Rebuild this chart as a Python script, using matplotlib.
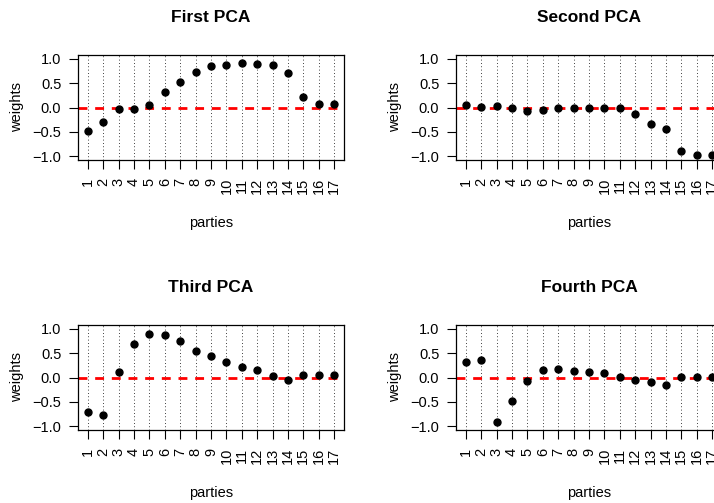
import numpy as np
import matplotlib
matplotlib.use("Agg")
import matplotlib.pyplot as plt

plt.rcParams["font.family"] = ["Liberation Sans", "DejaVu Sans"]

parties = list(range(1, 18))
titles = ["First PCA", "Second PCA", "Third PCA", "Fourth PCA"]

pc1 = [-0.48, -0.30, -0.03, -0.03, 0.05, 0.31, 0.52, 0.74, 0.85, 0.88,
       0.91, 0.90, 0.87, 0.72, 0.22, 0.07, 0.07]
pc2 = [0.05, 0.02, 0.04, -0.01, -0.08, -0.05, -0.01, 0.00, 0.00, 0.00,
       -0.02, -0.13, -0.33, -0.44, -0.90, -0.98, -0.98]
pc3 = [-0.71, -0.78, 0.12, 0.69, 0.90, 0.88, 0.76, 0.54, 0.44, 0.31,
       0.22, 0.16, 0.04, -0.05, 0.05, 0.06, 0.06]
pc4 = [0.31, 0.36, -0.92, -0.49, -0.07, 0.15, 0.18, 0.14, 0.11, 0.10,
       0.01, -0.06, -0.10, -0.15, 0.01, 0.02, 0.02]
weights = [pc1, pc2, pc3, pc4]

W, H = 714, 503
fig = plt.figure(figsize=(W / 100, H / 100), dpi=100)

# axes boxes in pixels: (left, top); right column runs off the page like the original
boxes = [(78, 55), (456, 55), (78, 325), (456, 325)]
aw, ah = 266, 105

for (left, top), title, w in zip(boxes, titles, weights):
    ax = fig.add_axes([left / W, (H - top - ah) / H, aw / W, ah / H])
    for p in parties:
        ax.axvline(p, color="black", lw=0.6, ls=(0, (1, 3)), zorder=1)
    ax.axhline(0, color="red", lw=2, ls=(0, (3.2, 2.8)), zorder=2)
    ax.plot(parties, w, "o", color="black", ms=5, zorder=3)

    ax.set_xlim(0.36, 17.64)
    ax.set_ylim(-1.08, 1.08)
    ax.set_xticks(parties)
    ax.set_xticklabels([str(p) for p in parties], rotation=90, va="top")
    ax.set_yticks([-1.0, -0.5, 0.0, 0.5, 1.0])
    ax.set_yticklabels(["\u22121.0", "\u22120.5", "0.0", "0.5", "1.0"])
    ax.tick_params(axis="both", direction="out", length=6.5, width=0.8,
                   labelsize=10.5, color="black")
    ax.tick_params(axis="y", pad=5.5)
    ax.tick_params(axis="x", pad=6.5)
    for s in ax.spines.values():
        s.set_linewidth(0.9)

    ax.text(0.5, 1 + 37 / ah, title, transform=ax.transAxes, ha="center",
            va="center", fontsize=12.5, fontweight="bold")
    ax.text(-60.5 / aw, 0.5, "weights", transform=ax.transAxes, rotation=90,
            ha="center", va="center", fontsize=10.5)
    ax.text(0.5, -63 / ah, "parties", transform=ax.transAxes, ha="center",
            va="center", fontsize=10.5)

fig.savefig("out.png", dpi=100)
